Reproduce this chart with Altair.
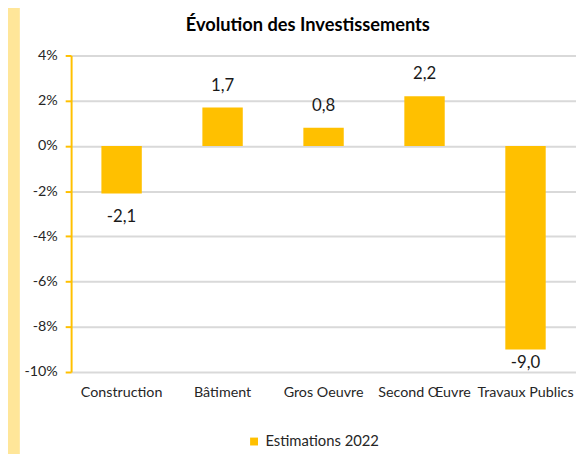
import altair as alt
import pandas as pd

categories = ["Construction", "Bâtiment", "Gros Oeuvre", "Second Œuvre", "Travaux Publics"]
values = [-2.1, 1.7, 0.8, 2.2, -9.0]
series = "Estimations 2022"
y_ticks = [-10, -8, -6, -4, -2, 0, 2, 4]

df = pd.DataFrame({"cat": categories, "val": values, "serie": [series] * len(categories)})

FONT = "Lato"
GOLD = "#FFC000"
TXT = "#262626"

x_enc = alt.X("cat:N", sort=categories, title=None,
              scale=alt.Scale(paddingInner=0.6, paddingOuter=0.3),
              axis=alt.Axis(domain=False, ticks=False, labelAngle=0, labelPadding=14,
                            labelFontSize=14.5, labelColor=TXT, labelFont=FONT,
                            labelOverlap=False))
y_scale = alt.Scale(domain=[-10, 4], nice=False)

bars = alt.Chart(df).mark_bar(color=GOLD).encode(
    x=x_enc,
    y=alt.Y("val:Q", scale=y_scale, title=None,
            axis=alt.Axis(values=y_ticks, labelExpr="datum.value + '%'",
                          domainColor=GOLD, domainWidth=2, tickColor=GOLD, tickWidth=2,
                          tickSize=6, labelPadding=8, labelFontSize=14.5, labelColor=TXT,
                          labelFont=FONT, gridColor="#D9D9D9", gridWidth=2)),
    color=alt.Color("serie:N", scale=alt.Scale(range=[GOLD]),
                    legend=alt.Legend(title=None, orient="none", legendX=178, legendY=384,
                                      symbolType="square", symbolSize=64, labelFontSize=15,
                                      labelFont=FONT, labelColor=TXT, symbolStrokeWidth=0)),
)

label_base = alt.Chart(df).transform_calculate(
    lab="replace(replace(format(datum.val, '.1f'), '.', ','), '\u2212', '-')",
    # labels are kept inside the plot area, as in the original chart
    ly="max(datum.val, -8.55)",
)

pos_labels = label_base.transform_filter("datum.val >= 0").mark_text(
    baseline="alphabetic", dy=-17, fontSize=17, font=FONT, color="#1a1a1a"
).encode(x=alt.X("cat:N", sort=categories), y=alt.Y("val:Q", scale=y_scale), text="lab:N")

neg_labels = label_base.transform_filter("datum.val < 0").mark_text(
    baseline="top", dy=16, fontSize=17, font=FONT, color="#1a1a1a"
).encode(x=alt.X("cat:N", sort=categories), y=alt.Y("ly:Q", scale=y_scale), text="lab:N")

title_df = pd.DataFrame({"t": ["Évolution des Investissements"]})
title = alt.Chart(title_df).mark_text(
    fontSize=18.5, fontWeight="bold", font=FONT, color="#000000", baseline="middle"
).encode(x=alt.value(240), y=alt.value(-31), text="t:N")

strip = alt.Chart(title_df).mark_rect(color="#FFE699", cornerRadius=0).encode(
    x=alt.value(-70), x2=alt.value(-52), y=alt.value(-70), y2=alt.value(500)
)

chart = alt.layer(strip, bars, pos_labels, neg_labels, title).properties(
    width=512, height=321,
    autosize=alt.AutoSizeParams(type="none"),
    padding={"left": 64, "top": 45, "right": 0, "bottom": 80},
    background="white",
).configure_view(stroke=None)

chart.save("out.html", embed_options={"renderer": "svg", "actions": False})
